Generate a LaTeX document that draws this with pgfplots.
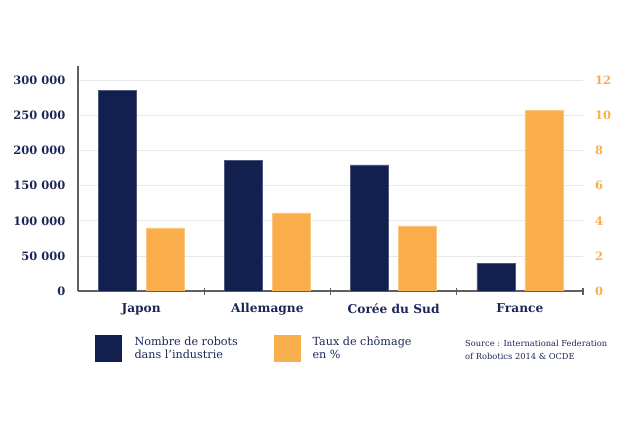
\documentclass[border=0pt]{standalone}
\usepackage{pgfplots}
\pgfplotsset{compat=1.18}
\usepackage{fontspec}
\setmainfont{DejaVu Serif}

\definecolor{navy}{RGB}{18,32,80}
\definecolor{navytext}{RGB}{28,38,88}
\definecolor{amber}{RGB}{250,173,75}
\definecolor{gridgray}{RGB}{232,232,232}
\definecolor{axisgray}{RGB}{95,95,95}

% robots (left axis) and unemployment rate in % (right axis)
\pgfplotstableread{
x robots
0 285600
1 186400
2 179700
3 39500
}\robots
\pgfplotstableread{
x rate
0 3.60
1 4.45
2 3.71
3 10.32
}\chomage

\pgfplotsset{
  common/.style={
    at={(78pt,132pt)}, anchor=south west,
    scale only axis, width=505pt, height=225pt,
    xmin=-0.5, xmax=3.5, ymin=0,
    scaled y ticks=false,
  },
}

\begin{document}
\begin{tikzpicture}[x=1pt,y=1pt]
\useasboundingbox (0,0) rectangle (620,423);

\begin{axis}[
  common,
  ymax=320800,
  axis x line=bottom, axis y line=left,
  axis line style={-, axisgray, line width=1.2pt},
  xtick={0,1,2,3},
  xticklabels={Japon, Allemagne, Corée du Sud, France},
  major x tick style={draw=none},
  minor xtick={0.5,1.5,2.5,3.5},
  minor tick length=7pt, tick align=center,
  minor x tick style={axisgray, line width=1.2pt},
  xticklabel style={font=\fontsize{12.2}{14}\selectfont\bfseries, text=navytext, yshift=-7pt},
  ytick={0,50000,100000,150000,200000,250000,300000},
  yticklabels={0, 50 000, 100 000, 150 000, 200 000, 250 000, 300 000},
  major y tick style={draw=none},
  yticklabel style={font=\fontsize{11.5}{13}\selectfont\bfseries, text=navytext, xshift=-7pt},
  ymajorgrids, grid style={gridgray, line width=0.8pt},
]
\addplot[ybar, bar width=38pt, bar shift=-24pt, fill=navy, draw=navy!75!white, line width=0.5pt] table[x=x, y=robots] {\robots};
\end{axis}

\begin{axis}[
  common,
  ymax=12.83,
  hide x axis,
  axis y line*=right,
  y axis line style={draw=none},
  ytick={0,2,4,6,8,10,12},
  yticklabels={0,2,4,6,8,10,12},
  major y tick style={draw=none},
  yticklabel style={font=\fontsize{11.5}{13}\selectfont\bfseries, text=amber, anchor=west, inner xsep=12pt},
]
\addplot[ybar, bar width=38pt, bar shift=24pt, fill=amber, draw=amber!70!white, line width=0.5pt] table[x=x, y=rate] {\chomage};
\end{axis}

% legend
\fill[navy] (95,61.3) rectangle (122.3,88);
\fill[amber] (274,61.3) rectangle (301,88);
\begin{scope}[every node/.style={anchor=base west, inner sep=0pt, text=navytext, font=\fontsize{11.2}{13}\selectfont}]
\node at (134.3,77.3) {Nombre de robots};
\node at (134.3,64.3) {dans l’industrie};
\node at (312.3,77.3) {Taux de chômage};
\node at (312.3,64.3) {en \%};
\end{scope}
\begin{scope}[every node/.style={anchor=base west, inner sep=0pt, text=navytext, font=\fontsize{8.3}{10}\selectfont}]
\node at (465,77) {Source : International Federation};
\node at (465,63.7) {of Robotics 2014 \& OCDE};
\end{scope}
\end{tikzpicture}
\end{document}
